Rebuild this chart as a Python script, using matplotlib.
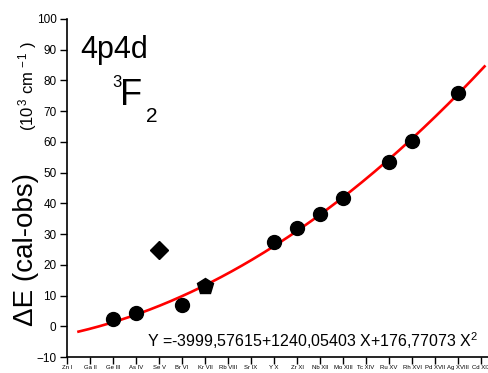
import numpy as np
import matplotlib
matplotlib.use("Agg")
import matplotlib.pyplot as plt

plt.rcParams['font.family'] = ['Liberation Sans', 'DejaVu Sans']
plt.rcParams['mathtext.fontset'] = 'custom'
plt.rcParams['mathtext.rm'] = 'Liberation Sans'
plt.rcParams['mathtext.it'] = 'Liberation Sans:italic'
plt.rcParams['mathtext.bf'] = 'Liberation Sans:bold'

# Isoelectronic sequence (ionization stage X = 1 .. 19)
ions = ["Zn I", "Ga II", "Ge III", "As IV", "Se V", "Br VI", "Kr VII", "Rb VIII",
        "Sr IX", "Y X", "Zr XI", "Nb XII", "Mo XIII", "Tc XIV", "Ru XV", "Rh XVI",
        "Pd XVII", "Ag XVIII", "Cd XIX"]
stage = np.arange(1, len(ions) + 1)

# Delta E (cal-obs) in 10^3 cm^-1, circles
circle_stage = [3, 4, 6, 10, 11, 12, 13, 15, 16, 18]
circle_de = [2.3, 4.2, 6.9, 27.4, 32.0, 36.5, 41.7, 53.5, 60.4, 76.0]
# outliers drawn with other symbols
diamond_stage = [5]
diamond_de = [24.8]
pentagon_stage = [7]
pentagon_de = [13.0]

# quadratic fit coefficients (cm^-1)
a0, a1, a2 = -3999.57615, 1240.05403, 176.77073

W, H = 488, 373
fig = plt.figure(figsize=(W / 100, H / 100), dpi=100)
ax = fig.add_axes([67 / W, 16 / H, (W - 67) / W, (357 - 19) / H])

xf = np.linspace(1.5, 19.15, 200)
ax.plot(xf, (a0 + a1 * xf + a2 * xf ** 2) / 1000.0, color="#ff0000", lw=1.9, zorder=2)

ax.plot(circle_stage, circle_de, "o", color="black", ms=10, zorder=3)
ax.plot(diamond_stage, diamond_de, "D", color="black", ms=9.5, zorder=3)
ax.plot(pentagon_stage, pentagon_de, "p", color="black", ms=12, zorder=3)

ax.set_xlim(1, 19.3)
ax.set_ylim(-10, 100)
ax.set_xticks(stage)
ax.set_xticklabels(ions, fontsize=4.3)
ax.set_yticks(np.arange(-10, 101, 10))
ax.tick_params(axis="y", labelsize=8.5, direction="out", length=5, width=1, pad=2.5)
ax.tick_params(axis="x", direction="out", length=5, width=1, pad=1)

for s in ("top", "right"):
    ax.spines[s].set_visible(False)
for s in ("left", "bottom"):
    ax.spines[s].set_linewidth(1.2)


def fx(px):
    return px / W


def fy(py):
    return 1 - py / H


fig.text(fx(26), fy(250), "ΔE (cal-obs)", rotation=90, fontsize=20,
         ha="center", va="center")
fig.text(fx(28), fy(86), r"(10$^{\,3}$ cm$^{\,-1}$ )", rotation=90, fontsize=12,
         ha="center", va="center")

fig.text(fx(80), fy(58), "4p4d", fontsize=22, ha="left", va="baseline")
fig.text(fx(112), fy(87), "3", fontsize=12, ha="left", va="baseline")
fig.text(fx(120), fy(105), "F", fontsize=26, ha="left", va="baseline")
fig.text(fx(146), fy(122), "2", fontsize=15, ha="left", va="baseline")

fig.text(fx(478), fy(347), r"Y =-3999,57615+1240,05403 X+176,77073 X$^{2}$",
         ha="right", va="baseline", fontsize=11.5)

fig.savefig("out.png", dpi=100)
